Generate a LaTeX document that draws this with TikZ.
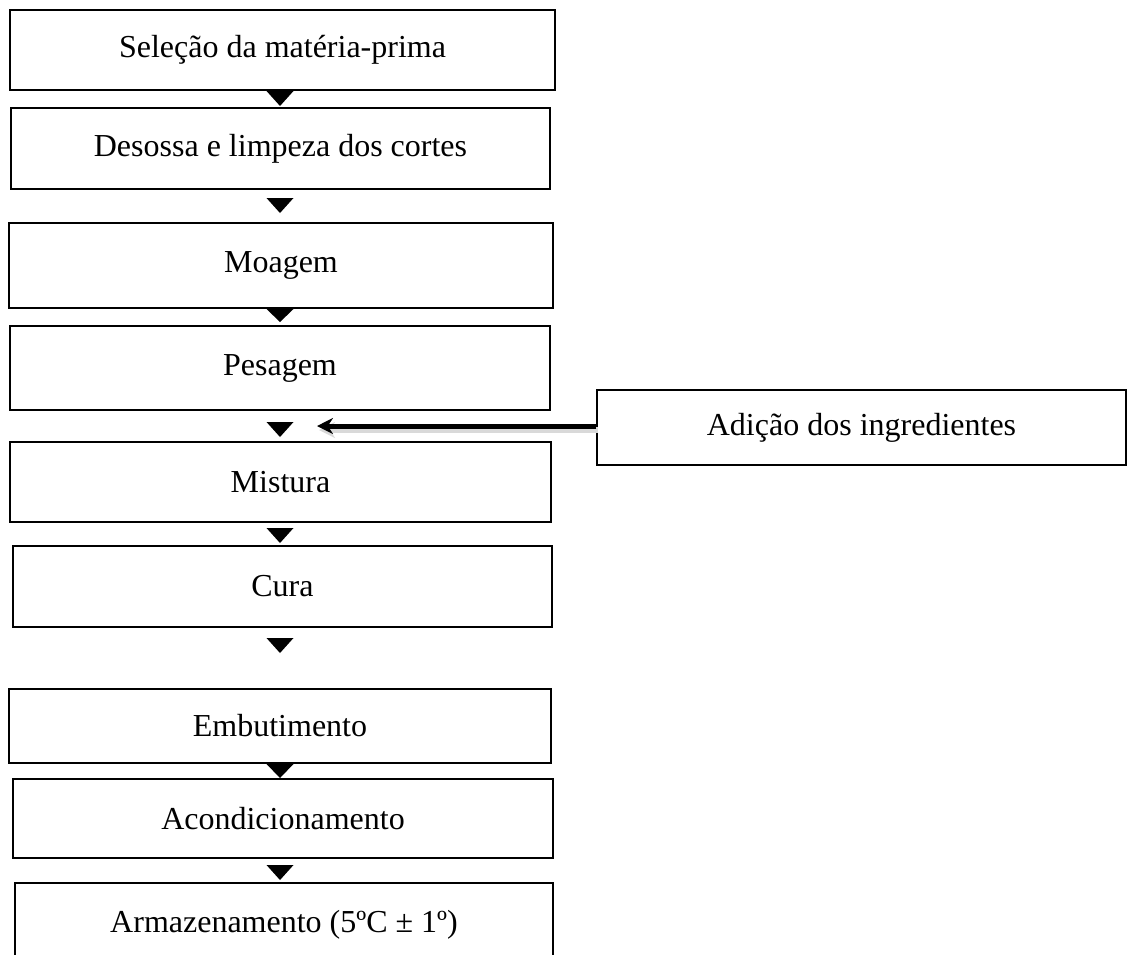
\documentclass[tikz,border=0pt]{standalone}
\usepackage{fontspec}
\setmainfont{Liberation Serif}
\usepackage{tikz}
\usetikzlibrary{positioning,calc,arrows.meta}
\tikzset{STEP/.style={rectangle,draw,line width=1pt,inner sep=0pt,align=flush center,font=\fontsize{16pt}{19pt}\selectfont}}
\tikzset{ARROW/.style={line width=2.5pt, -{Stealth[length=8pt,width=8pt]}, preaction={draw=black!15, line width=3pt, transform canvas={shift={(1pt,-2pt)}}}}}

\begin{document}
\begin{tikzpicture}[x=0.5pt,y=-0.5pt]

\useasboundingbox (0,0) rectangle (1127,954);
\coordinate (c_axis) at (280,0);

\node[STEP, minimum width=272.5pt, minimum height=40pt] (n_selecao) at (282.5,50) {Seleção da matéria-prima};
\node[STEP, minimum width=269.5pt, minimum height=40.5pt] (n_desossa) at (280.5,148.5) {Desossa e limpeza dos cortes};
\node[STEP, minimum width=272pt, minimum height=42.5pt] (n_moagem) at (281,265.5) {Moagem};
\node[STEP, minimum width=270pt, minimum height=42pt] (n_pesagem) at (280,368) {Pesagem};
\node[STEP, minimum width=270.5pt, minimum height=40pt] (n_mistura) at (280.5,482) {Mistura};
\node[STEP, minimum width=269.5pt, minimum height=40.5pt] (n_cura) at (282.5,586.5) {Cura};
\node[STEP, minimum width=271pt, minimum height=37pt] (n_embutimento) at (280,726) {Embutimento};
\node[STEP, minimum width=270pt, minimum height=39.5pt] (n_acond) at (283,818.5) {Acondicionamento};
\node[STEP, minimum width=269pt, minimum height=42pt] (n_armaz) at (284,925) {Armazenamento (5ºC ± 1º)};

\node[STEP, minimum width=264.5pt, minimum height=37.5pt] (n_adicao) at (861.5,427.5) {Adição dos ingredientes};

% setas entre as etapas
\fill ($(n_selecao.south-|c_axis)+(-13.5,0)$) -- ++(27,0) -- ++(-13.5,15) -- cycle;
\fill ($(n_desossa.south-|c_axis)+(-13.5,8)$) -- ++(27,0) -- ++(-13.5,15) -- cycle;
\fill ($(n_moagem.south-|c_axis)+(-13.5,0)$) -- ++(27,0) -- ++(-13.5,13) -- cycle;
\fill ($(n_pesagem.south-|c_axis)+(-13.5,11)$) -- ++(27,0) -- ++(-13.5,15) -- cycle;
\fill ($(n_mistura.south-|c_axis)+(-13.5,5)$) -- ++(27,0) -- ++(-13.5,15) -- cycle;
\fill ($(n_cura.south-|c_axis)+(-13.5,10)$) -- ++(27,0) -- ++(-13.5,15) -- cycle;
\fill ($(n_embutimento.south-|c_axis)+(-13.5,0)$) -- ++(27,0) -- ++(-13.5,14) -- cycle;
\fill ($(n_acond.south-|c_axis)+(-13.5,6)$) -- ++(27,0) -- ++(-13.5,15) -- cycle;

\coordinate (c_add) at ($(n_pesagem.south-|c_axis)+(37,15)$);
\draw[ARROW] (n_adicao.west|-c_add) -- (c_add);

\end{tikzpicture}
\end{document}
